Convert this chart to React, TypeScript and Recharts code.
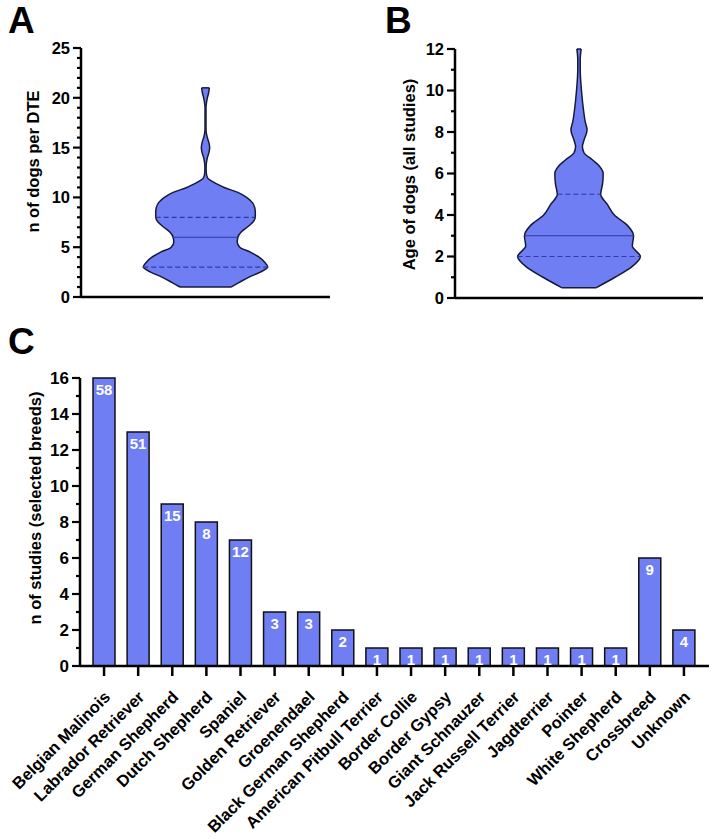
import React from 'react';
import { ComposedChart, Area, XAxis, YAxis, ReferenceLine, BarChart, Bar, LabelList } from 'recharts';

const FONT = "Arial, 'Liberation Sans', Helvetica, sans-serif";
const FILL = '#6f7ef2';
const EDGE = '#161a3a';
const INNER = '#2c3aa8';

// ---------- Panel A: n of dogs per DTE (violin) ----------
const dteLevels = [1, 1.5, 2, 2.5, 3, 3.5, 4, 4.5, 5, 5.5, 6, 6.5, 7, 7.5, 8, 8.5, 9, 9.5, 10, 10.5, 11, 11.3, 11.7, 12, 12.5, 13, 13.5, 14, 14.5, 15, 15.5, 16, 16.5, 17, 18, 19, 19.5, 20, 20.5, 21];
const dteDensity = [0.41, 0.55, 0.7, 0.88, 1.0, 0.95, 0.86, 0.72, 0.55, 0.51, 0.52, 0.57, 0.67, 0.76, 0.8, 0.8, 0.79, 0.75, 0.66, 0.52, 0.3, 0.2, 0.08, 0.03, 0.012, 0.01, 0.015, 0.03, 0.055, 0.067, 0.055, 0.03, 0.012, 0.008, 0.008, 0.008, 0.015, 0.03, 0.05, 0.062];
const dteQuartiles = [3, 6, 8]; // Q1, median, Q3
const dteTicks = [0, 1, 2, 3, 4, 5, 6, 7, 8, 9, 10, 11, 12, 13, 14, 15, 16, 17, 18, 19, 20, 21, 22, 23, 24, 25];

// ---------- Panel B: age of dogs (violin) ----------
const ageLevels = [0.5, 1, 1.5, 2, 2.5, 3, 3.5, 4, 4.5, 5, 5.5, 6, 6.35, 6.65, 7, 7.3, 7.6, 8.1, 8.5, 9, 10, 11, 11.5, 12];
const ageDensity = [0.28, 0.58, 0.85, 0.99, 0.86, 0.88, 0.78, 0.57, 0.46, 0.35, 0.38, 0.39, 0.33, 0.22, 0.08, 0.055, 0.08, 0.13, 0.1, 0.075, 0.04, 0.02, 0.02, 0.035];
const ageQuartiles = [2, 3, 5]; // Q1, median, Q3
const ageTicks = [0, 1, 2, 3, 4, 5, 6, 7, 8, 9, 10, 11, 12];

// ---------- Panel C: studies per breed ----------
const breeds = ['Belgian Malinois', 'Labrador Retriever', 'German Shepherd', 'Dutch Shepherd', 'Spaniel', 'Golden Retriever', 'Groenendael', 'Black German Shepherd', 'American Pitbull Terrier', 'Border Collie', 'Border Gypsy', 'Giant Schnauzer', 'Jack Russell Terrier', 'Jagdterrier', 'Pointer', 'White Shepherd', 'Crossbreed', 'Unknown'];
const studyCounts = [16, 13, 9, 8, 7, 3, 3, 2, 1, 1, 1, 1, 1, 1, 1, 1, 6, 2];
const dogCounts = [58, 51, 15, 8, 12, 3, 3, 2, 1, 1, 1, 1, 1, 1, 1, 1, 9, 4];
const studyTicks = [0, 1, 2, 3, 4, 5, 6, 7, 8, 9, 10, 11, 12, 13, 14, 15, 16];

const barData = breeds.map((breed, i) => ({ breed, studies: studyCounts[i], dogs: dogCounts[i] }));

const makeYTick = (majorEvery: number, fontSize: number, majorLen: number, minorLen: number) => (props: any) => {
  const { x, y, payload } = props;
  const v = payload.value;
  const major = Math.abs(v % majorEvery) < 1e-9;
  return (
    <g>
      <line x1={x} x2={x - (major ? majorLen : minorLen)} y1={y} y2={y} stroke="#000" strokeWidth={2.2} />
      {major && (
        <text x={x - majorLen - 3} y={y} dy="0.36em" textAnchor="end" fontSize={fontSize} fontWeight="bold" fill="#000" fontFamily={FONT}>
          {v}
        </text>
      )}
    </g>
  );
};

const makeTitle = (text: string, cx: number, shift: number, fontSize: number) => (props: any) => {
  const vb = props.viewBox || { x: 0, y: 0, width: 0, height: 0 };
  const x = vb.x + cx;
  const y = vb.y + vb.height / 2 + shift;
  return (
    <text x={x} y={y} transform={`rotate(-90, ${x}, ${y})`} textAnchor="middle" dy="0.35em" fontSize={fontSize} fontWeight="bold" fill="#000" fontFamily={FONT}>
      {text}
    </text>
  );
};

const BreedTick = (props: any) => {
  const { x, y, payload } = props;
  return (
    <g transform={`translate(${x},${y})`}>
      <line x1={0} y1={0} x2={0} y2={10} stroke="#000" strokeWidth={2.5} />
      <text transform="translate(3, 28) rotate(-45)" textAnchor="end" dy="0.35em" fontSize={16.5} fontWeight="bold" fill="#000" fontFamily={FONT}>
        {payload.value}
      </text>
    </g>
  );
};

type ViolinProps = {
  levels: number[];
  density: number[];
  quartiles: number[];
  ticks: number[];
  majorEvery: number;
  title: string;
  titleX: number;
  titleShift: number;
  width: number;
  height: number;
  margin: { top: number; right: number; bottom: number; left: number };
  yAxisWidth: number;
};

function Violin(p: ViolinProps) {
  const data = p.levels.map((y, i) => ({ y, range: [-p.density[i], p.density[i]] }));
  const widthAt = (v: number) => p.density[p.levels.indexOf(v)];
  const yMin = p.levels[0];
  const yMax = p.levels[p.levels.length - 1];
  return (
    <ComposedChart layout="vertical" width={p.width} height={p.height} data={data} margin={p.margin}>
      <XAxis type="number" domain={[-2, 2]} allowDataOverflow tick={false} tickLine={false} axisLine={{ stroke: '#000', strokeWidth: 2.5 }} height={1} />
      <YAxis
        type="number"
        dataKey="y"
        reversed
        domain={[p.ticks[0], p.ticks[p.ticks.length - 1]]}
        ticks={p.ticks}
        interval={0}
        width={p.yAxisWidth}
        tickSize={0}
        tickMargin={0}
        tickLine={false}
        axisLine={{ stroke: '#000', strokeWidth: 2.5 }}
        tick={makeYTick(p.majorEvery, 16.5, 8, 4)}
        label={makeTitle(p.title, p.titleX, p.titleShift, 16.5)}
      />
      <Area dataKey="range" type="monotone" fill={FILL} fillOpacity={1} stroke={EDGE} strokeWidth={1.5} isAnimationActive={false} dot={false} activeDot={false} />
      {p.quartiles.map((q, i) => (
        <ReferenceLine
          key={`q${i}`}
          segment={[{ x: -widthAt(q), y: q }, { x: widthAt(q), y: q }]}
          stroke={INNER}
          strokeWidth={1.2}
          strokeDasharray={i === 1 ? undefined : '5 3'}
          ifOverflow="visible"
        />
      ))}
      <ReferenceLine segment={[{ x: -widthAt(yMin), y: yMin }, { x: widthAt(yMin), y: yMin }]} stroke={EDGE} strokeWidth={1.5} ifOverflow="visible" />
      <ReferenceLine segment={[{ x: -widthAt(yMax), y: yMax }, { x: widthAt(yMax), y: yMax }]} stroke={EDGE} strokeWidth={1.5} ifOverflow="visible" />
    </ComposedChart>
  );
}

export default function App() {
  return (
    <div style={{ position: 'absolute', left: 0, top: 0, width: 712, height: 839, background: '#fff', fontFamily: FONT }}>
      <div style={{ position: 'absolute', left: 0, top: 0 }}>
        <Violin
          levels={dteLevels}
          density={dteDensity}
          quartiles={dteQuartiles}
          ticks={dteTicks}
          majorEvery={5}
          title="n of dogs per DTE"
          titleX={33}
          titleShift={-11}
          width={356}
          height={310}
          margin={{ top: 48, right: 26, bottom: 12, left: 0 }}
          yAxisWidth={81}
        />
      </div>
      <div style={{ position: 'absolute', left: 356, top: 0 }}>
        <Violin
          levels={ageLevels}
          density={ageDensity}
          quartiles={ageQuartiles}
          ticks={ageTicks}
          majorEvery={2}
          title="Age of dogs (all studies)"
          titleX={53}
          titleShift={1}
          width={356}
          height={310}
          margin={{ top: 49, right: 9, bottom: 11, left: 0 }}
          yAxisWidth={99}
        />
      </div>
      <div style={{ position: 'absolute', left: 0, top: 310 }}>
        <BarChart width={712} height={529} data={barData} margin={{ top: 68, right: 3, bottom: 0, left: 0 }} barSize={22}>
          <XAxis
            dataKey="breed"
            type="category"
            interval={0}
            height={173}
            tickSize={0}
            tickMargin={0}
            tickLine={false}
            axisLine={{ stroke: '#000', strokeWidth: 2.5 }}
            padding={{ left: 7, right: 8 }}
            tick={BreedTick}
          />
          <YAxis
            type="number"
            domain={[0, 16]}
            ticks={studyTicks}
            interval={0}
            width={80}
            tickSize={0}
            tickMargin={0}
            tickLine={false}
            axisLine={{ stroke: '#000', strokeWidth: 2.5 }}
            tick={makeYTick(2, 17, 8, 4)}
            label={makeTitle('n of studies (selected breeds)', 35, -14, 16.5)}
          />
          <Bar dataKey="studies" fill={FILL} stroke="#111" strokeWidth={1.5} isAnimationActive={false}>
            <LabelList dataKey="dogs" position="insideTop" offset={6} fill="#fff" fontSize={15} fontWeight={700} fontFamily={FONT} />
          </Bar>
        </BarChart>
      </div>
      <svg width={712} height={839} style={{ position: 'absolute', left: 0, top: 0, pointerEvents: 'none' }}>
        <text x={8} y={33} fontSize={37} fontWeight="bold" fontFamily={FONT} fill="#000">A</text>
        <text x={385} y={33} fontSize={37} fontWeight="bold" fontFamily={FONT} fill="#000">B</text>
        <text x={8} y={354} fontSize={37} fontWeight="bold" fontFamily={FONT} fill="#000">C</text>
      </svg>
    </div>
  );
}
